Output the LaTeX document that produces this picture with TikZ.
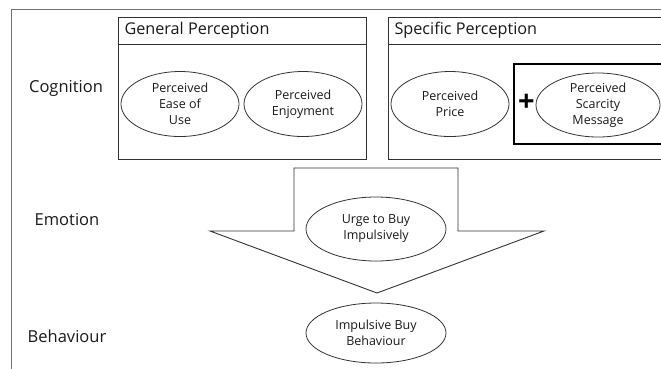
\documentclass[tikz,border=0pt]{standalone}
\usepackage{fontspec}
\setmainfont{Open Sans}
\usetikzlibrary{shapes.geometric}
\tikzstyle{frame}=[line width=0.8,black!55]
\tikzstyle{panel}=[line width=1,black!80]
\tikzstyle{cue}=[line width=1.4,black]
\tikzstyle{construct}=[ellipse,draw,line width=0.8,black!80,text=black!90,align=center,
                       font=\fontsize{12.5}{16}\selectfont,inner sep=0,minimum width=118pt,minimum height=65pt]
\tikzstyle{level}=[font=\fontsize{16.5}{19}\selectfont,text=black!90]
\tikzstyle{heading}=[anchor=west,font=\fontsize{16.2}{19}\selectfont,text=black!90]

\begin{document}
\begin{tikzpicture}[x=1pt,y=-1pt]
  \useasboundingbox (0,0) rectangle (661,368);
  \clip (0,0) rectangle (661,368);
  \def\Ty{17}  % panel top
  \def\Hy{44}  % heading line
  \def\By{159} % panel bottom
  \def\Ey{104} % ellipse row

  % FRAME
  \draw[frame] (11,380) -- (11,9) -- (680,9);

  % LEVELS
  \node[level] (cog) at (66,88)  {Cognition};
  \node[level] (emo) at (67,220) {Emotion};
  \node[level] (beh) at (67,336) {Behaviour};

  % PANELS
  \draw[panel] (118,\Ty) rectangle (366,\By);
  \draw[panel] (118,\Hy) -- (366,\Hy);
  \node[heading] (gen) at (121,30.5) {General Perception};
  \draw[panel] (388,\Ty) rectangle (680,\By);
  \draw[panel] (388,\Hy) -- (680,\Hy);
  \node[heading] (spec) at (391,30.5) {Specific Perception};
  \draw[cue] (514,64) rectangle (680,144);

  % CONSTRUCTS
  \node[construct] (ease)  at (180,\Ey) {Perceived\\Ease of\\Use};
  \node[construct] (enjoy) at (303,\Ey) {Perceived\\Enjoyment};
  \node[construct] (price) at (450,\Ey) {Perceived\\Price};
  \node[construct,minimum width=124pt,minimum height=64pt] (scarce) at (598,105) {Perceived\\Scarcity\\Message};
  \node[font=\fontsize{29}{29}\selectfont\bfseries,inner sep=0] (plus) at (526.5,102.5) {+};

  % ARROW
  \draw[panel,line width=0.9] (294,168) -- (458,168) -- (458,231) -- (544,231)
        -- (377,293) -- (210,231) -- (294,231) -- cycle;
  \node[construct,minimum width=140pt,minimum height=64pt] (urge) at (376,229) {Urge to Buy\\Impulsively};
  \node[construct,minimum width=140pt,minimum height=60pt] (buy) at (376,333) {Impulsive Buy\\Behaviour};

\end{tikzpicture}
\end{document}
